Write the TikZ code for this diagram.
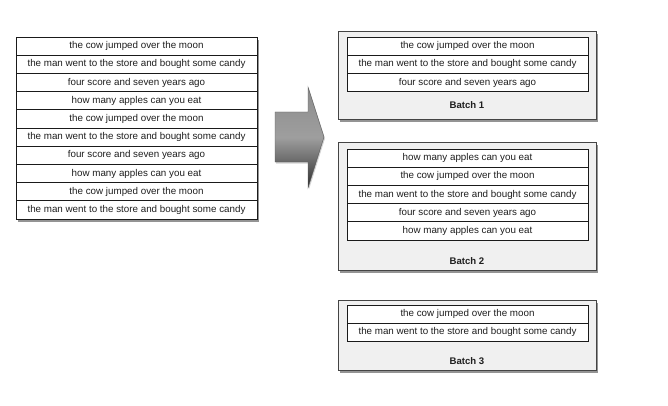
\documentclass[tikz,border=0pt]{standalone}
\usepackage{fontspec}
\setmainfont{Liberation Sans}
\usetikzlibrary{shadows,positioning}
\definecolor{rowline}{HTML}{1A1A1A}
\definecolor{boxfill}{HTML}{F0F0F0}
\definecolor{boxline}{HTML}{444444}
\tikzset{
  rowbox/.style={draw=rowline, line width=0.9pt, fill=white, minimum width=241pt, minimum height=18.2pt,
    inner sep=0pt, outer sep=0pt, anchor=north west, font=\fontsize{9.8}{11}\selectfont, text=black!88},
  softshadow/.style={drop shadow={shadow xshift=1.5pt, shadow yshift=-3pt, opacity=0.6, fill=black!70}},
  batchbox/.style={draw=boxline, line width=0.9pt, fill=boxfill, softshadow},
  batchlabel/.style={font=\bfseries\fontsize{9.6}{11}\selectfont, text=black!88, inner sep=0pt},
}
\begin{document}
\begin{tikzpicture}[x=1pt,y=-1pt]
\useasboundingbox (0,0) rectangle (668,406);
% left table shadow
\path[fill=white, softshadow] (16,37) rectangle (257,219);
\foreach \t [count=\i] in {the cow jumped over the moon,the man went to the store and bought some candy,four score and seven years ago,how many apples can you eat,the cow jumped over the moon,the man went to the store and bought some candy,four score and seven years ago,how many apples can you eat,the cow jumped over the moon,the man went to the store and bought some candy}{
  \node[rowbox] (l\i) at (16,{37+(\i-1)*18.2}) {\t};
}
% arrow
\path[top color=black!45, bottom color=black!82, middle color=black!38, draw=black!65, line width=0.4pt,
  drop shadow={shadow xshift=1pt, shadow yshift=-1.5pt, opacity=0.35}]
  (275,112) -- (308,112) -- (308,87) -- (324,137) -- (308,188) -- (308,162) -- (275,162) -- cycle;
% batch 1
\node[batchbox, minimum width=258pt, minimum height=88pt, anchor=north west, inner sep=0pt] (b1) at (338,31) {};
\foreach \t [count=\i] in {the cow jumped over the moon,the man went to the store and bought some candy,four score and seven years ago}{
  \node[rowbox] (a\i) at (347,{37+(\i-1)*18.2}) {\t};
}
\node[batchlabel] (lb1) at (467,105) {Batch 1};
% batch 2
\node[batchbox, minimum width=258pt, minimum height=128pt, anchor=north west, inner sep=0pt] (b2) at (338,142) {};
\foreach \t [count=\i] in {how many apples can you eat,the cow jumped over the moon,the man went to the store and bought some candy,four score and seven years ago,how many apples can you eat}{
  \node[rowbox] (c\i) at (347,{149+(\i-1)*18.2}) {\t};
}
\node[batchlabel] (lb2) at (467,261) {Batch 2};
% batch 3
\node[batchbox, minimum width=258pt, minimum height=70pt, anchor=north west, inner sep=0pt] (b3) at (338,300) {};
\foreach \t [count=\i] in {the cow jumped over the moon,the man went to the store and bought some candy}{
  \node[rowbox] (d\i) at (347,{305+(\i-1)*18.2}) {\t};
}
\node[batchlabel] (lb3) at (467,361) {Batch 3};
\end{tikzpicture}
\end{document}
